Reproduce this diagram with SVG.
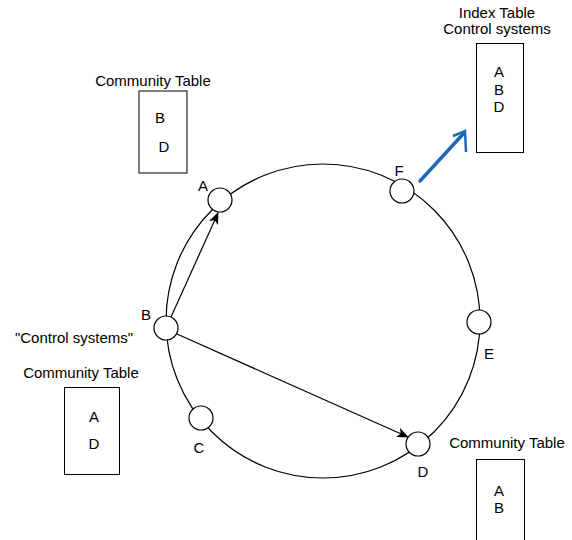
<svg xmlns="http://www.w3.org/2000/svg" width="572" height="540" viewBox="0 0 572 540">
<style>
text{font-family:"Liberation Sans",Arial,sans-serif;font-size:15px;fill:#000}
.c{text-anchor:middle}
.node{fill:#fff;stroke:#000;stroke-width:1.2}
.tbl{fill:#fff;stroke:#000;stroke-width:1}
.ln{fill:none;stroke:#000;stroke-width:1.2}
</style>
<defs>
<marker id="ah" viewBox="0 0 12 10" refX="11" refY="5" markerWidth="12" markerHeight="10" markerUnits="userSpaceOnUse" orient="auto">
<path d="M0,0 L12,5 L0,10 L3,5 Z" fill="#000"/>
</marker>
</defs>
<rect width="572" height="540" fill="#fff"/>
<g id="connectors">
<circle cx="323" cy="321" r="157" class="ln"/>
<line x1="171" y1="317" x2="218" y2="213" class="ln" marker-end="url(#ah)"/>
<line x1="177" y1="334" x2="408" y2="437" class="ln" marker-end="url(#ah)"/>
<path d="M420,181 L464,133" fill="none" stroke="#1f68b8" stroke-width="3.5" stroke-linecap="round"/>
<path d="M453,136 L465,131 L466,152" fill="none" stroke="#1f68b8" stroke-width="2.5" stroke-linejoin="miter"/>
</g>
<g id="node-A"><circle cx="220" cy="200" r="12" class="node"/><text x="203" y="191" class="c">A</text></g>
<g id="node-F"><circle cx="402" cy="191" r="12" class="node"/><text x="399" y="176" class="c">F</text></g>
<g id="node-E"><circle cx="479" cy="322" r="12" class="node"/><text x="489" y="359" class="c">E</text></g>
<g id="node-D"><circle cx="418" cy="444" r="12" class="node"/><text x="423" y="477" class="c">D</text></g>
<g id="node-C"><circle cx="201" cy="418" r="12" class="node"/><text x="199" y="453" class="c">C</text></g>
<g id="node-B"><circle cx="166" cy="328" r="12" class="node"/><text x="146" y="320" class="c">B</text></g>
<g id="label-query"><text x="74" y="343" class="c">"Control systems"</text></g>
<g id="table-A">
<text x="153" y="86" class="c">Community Table</text>
<rect x="139" y="91" width="48" height="82" class="tbl"/>
<text x="160" y="123" class="c">B</text>
<text x="164" y="152" class="c">D</text>
</g>
<g id="table-B">
<text x="81" y="378" class="c">Community Table</text>
<rect x="64.5" y="387.5" width="55" height="87" class="tbl"/>
<text x="94" y="422" class="c">A</text>
<text x="94" y="449" class="c">D</text>
</g>
<g id="table-D">
<text x="507" y="448" class="c">Community Table</text>
<rect x="476.5" y="459.5" width="48" height="90" class="tbl"/>
<text x="499" y="496" class="c">A</text>
<text x="499" y="513" class="c">B</text>
</g>
<g id="table-F">
<text x="497" y="18" class="c">Index Table</text>
<text x="497" y="34" class="c">Control systems</text>
<rect x="476.5" y="43.5" width="47" height="109" class="tbl"/>
<text x="499" y="77" class="c">A</text>
<text x="499" y="95" class="c">B</text>
<text x="499" y="112" class="c">D</text>
</g>
</svg>
